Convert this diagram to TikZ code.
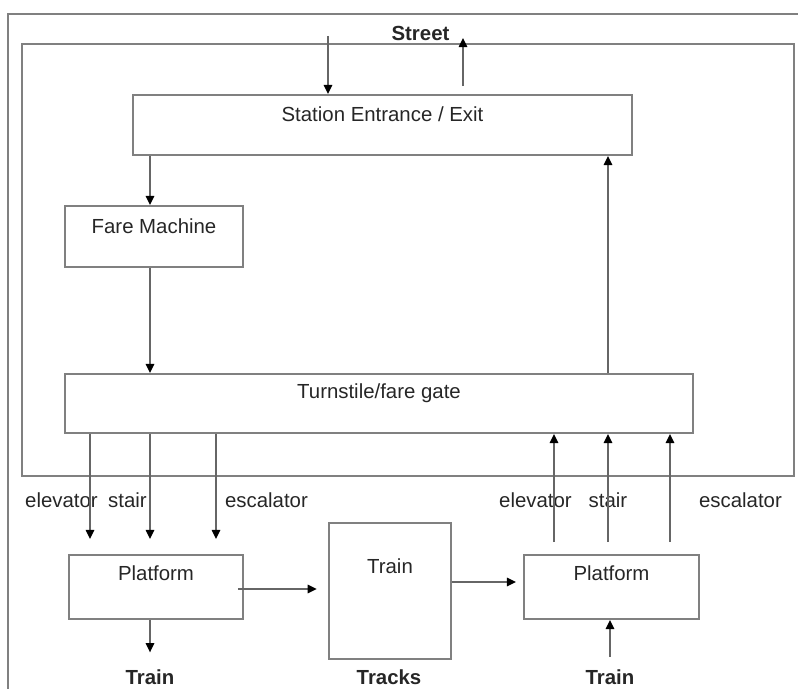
\documentclass[tikz,border=0pt]{standalone}
\usepackage{fontspec}
\setmainfont{Liberation Sans}
\usetikzlibrary{
  calc,        % shifted points: ($(A)+(0,20)$)
  positioning, % relative placement
  arrows.meta  % Triangle tips
}

\begin{document}
\begin{tikzpicture}[x=0.025cm, y=-0.025cm,
    font=\fontsize{14.5}{17}\selectfont, text=black!85,
    frame/.style={draw=black!50, line width=1.3pt},
    box/.style={draw=black!50, line width=1.3pt, rectangle, inner sep=0pt},
    tag/.style={inner sep=0pt},
    flow/.style={draw=black!60, line width=1.1pt, -{Triangle[length=6.5pt, width=6pt, fill=black, color=black]}}]
  \useasboundingbox (0,0) rectangle (798,689);
  % columns of the vertical arrows
  \coordinate (colA) at (150,0);      % main left column
  \coordinate (colEl) at (90,0);
  \coordinate (colEs) at (216,0);
  \coordinate (colUpEl) at (554,0);
  \coordinate (colUpSt) at (608,0);
  \coordinate (colUpEs) at (670,0);
  \coordinate (rowLow) at (0,539);   % tips of the lower arrows
  \coordinate (streetIn) at (328,36);
  \coordinate (streetOut) at (463,38);
  % frames
  \draw[frame] (8,14) rectangle (840,760);
  \draw[frame] (22,44) rectangle (794,476);
  % boxes
  \node[box, minimum width=12.475cm, minimum height=1.5cm] (entrance) at (382.5,125) {};
  \node[box, minimum width=4.45cm, minimum height=1.525cm] (fare) at (154,236.5) {};
  \node[box, minimum width=15.7cm, minimum height=1.475cm] (gate) at (379,403.5) {};
  \node[box, minimum width=4.35cm, minimum height=1.6cm] (platL) at (156,587) {};
  \node[box, minimum width=3.05cm, minimum height=3.4cm] (train) at (390,591) {};
  \node[box, minimum width=4.375cm, minimum height=1.6cm] (platR) at (611.5,587) {};
  % box texts
  \node[tag] at ($(entrance.north)+(0,20)$) {Station Entrance / Exit};
  \node[tag] at ($(fare.north)+(0,21)$) {Fare Machine};
  \node[tag] at ($(gate.north)+(0,20)$) {Turnstile/fare gate};
  \node[tag] at ($(platL.north)+(0,19)$) {Platform};
  \node[tag] at ($(train.north)+(0,44)$) {Train};
  \node[tag] at ($(platR.north)+(0,19)$) {Platform};
  % outside labels
  \node[tag, font=\fontsize{14.5}{17}\selectfont\bfseries] (street) at (420.5,33) {Street};
  \node[tag, font=\fontsize{14.5}{17}\selectfont\bfseries] (trainOut) at (150,677) {Train};
  \node[tag, font=\fontsize{14.5}{17}\selectfont\bfseries] (tracks) at (389,677) {Tracks};
  \node[tag, font=\fontsize{14.5}{17}\selectfont\bfseries] (trainIn) at (610,677) {Train};
  \node[tag] (elL) at (61.5,500) {elevator};
  \node[tag] (stL) at (127.5,500) {stair};
  \node[tag] (esL) at (266.5,500) {escalator};
  \node[tag] (elR) at (535.5,500) {elevator};
  \node[tag] (stR) at (608,500) {stair};
  \node[tag] (esR) at (740.5,500) {escalator};
  % street
  \draw[flow] (streetIn) -- (entrance.north -| streetIn);
  \draw[flow] ($(entrance.north -| streetOut)+(0,-8)$) -- (streetOut);
  % inside the station
  \draw[flow] (entrance.south -| colA) -- (fare.north -| colA);
  \draw[flow] (fare.south -| colA) -- (gate.north -| colA);
  \draw[flow] (gate.north -| colUpSt) -- (entrance.south -| colUpSt);
  % down to the first platform
  \draw[flow] (gate.south -| colEl) -- (colEl |- rowLow);
  \draw[flow] (gate.south -| colA) -- (colA |- rowLow);
  \draw[flow] (gate.south -| colEs) -- (colEs |- rowLow);
  % up from the second platform
  \draw[flow] ($(colUpEl |- rowLow)+(0,3)$) -- (gate.south -| colUpEl);
  \draw[flow] ($(colUpSt |- rowLow)+(0,3)$) -- (gate.south -| colUpSt);
  \draw[flow] ($(colUpEs |- rowLow)+(0,3)$) -- (gate.south -| colUpEs);
  % along the tracks
  \draw[flow, shorten >=8pt] ($(platL.east)+(-6,2)$) -- ($(platL.east -| train.west)+(0,2)$);
  \draw[flow, shorten >=5pt] ($(train.east)+(0,-9)$) -- ($(train.east -| platR.west)+(0,-9)$);
  \draw[flow, shorten >=12pt] (platL.south -| colA) -- (trainOut);
  \draw[flow, shorten <=9pt] (trainIn) -- (platR.south -| trainIn);
\end{tikzpicture}
\end{document}
